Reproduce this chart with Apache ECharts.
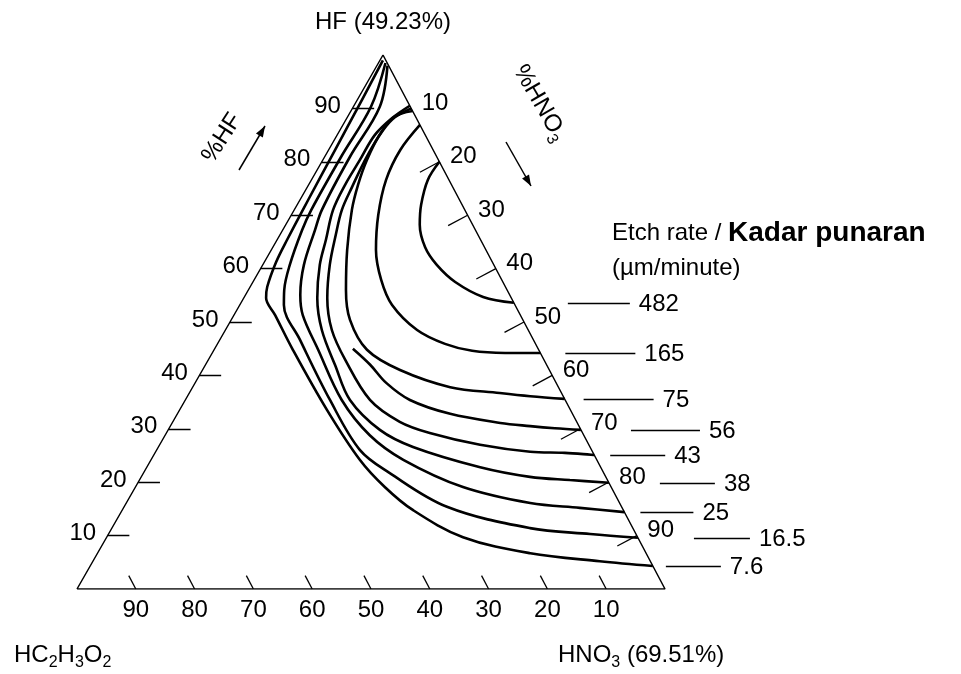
<!DOCTYPE html>
<html>
<head>
<meta charset="utf-8">
<script src="https://cdn.jsdelivr.net/npm/echarts@6/dist/echarts.min.js"></script>
<style>
html, body { margin: 0; padding: 0; background: #fff; }
#main { width: 961px; height: 674px; }
</style>
</head>
<body>
<div id="main"></div>
<script>
"use strict"
// etch rate contours on the HF / HNO3 / HC2H3O2 triangle
// every point is [HF %, HNO3 %], acetic acid is what is left
const rates = ['482', '165', '75', '56', '43', '38', '25', '16.5', '7.6'];

const c482 = [[80,20],[76.6,19.8],[71.9,21.1],[68.2,22.8],[64,25.9],[60.7,29.6],[57.5,34.4],[54.7,40.6],[53.6,46.4]];
const c165 = [[86.9,13.1],[82.2,12.2],[76.6,12.7],[70,14.8],[63.5,17.8],[57.9,21.6],[53.2,25.9],[48.5,32.6],[45.9,38.7],[44.6,44],[44.2,49.8],[44.2,55.8]];
const c75 = [[89.5,10.5],[88.4,7.9],[85.2,7.2],[80.3,7.5],[75.7,8.4],[71,9.8],[63.5,12.9],[56,16.6],[50.4,20.2],[44.8,26],[41,33.6],[37.8,43.8],[36.7,52.8],[36.1,58.3],[35.6,64.4]];
const c56 = [[45,23.5],[42,28],[38.6,32.5],[35.4,38.2],[32.8,46.4],[31.1,55.8],[30.5,61.2],[30.1,65.6],[29.8,70.2]];
const c43 = [[90,10],[88,7.9],[84.6,7.2],[80,7.2],[75.3,7.6],[71,8.1],[66.3,9.5],[60.7,11.4],[54.5,14.2],[48.5,18.1],[42.9,23.3],[35.4,31.4],[31.3,38.6],[29.2,44.8],[27,54.5],[25.7,63.7],[25.5,69.7],[25.1,74.9]];
const c38 = [[90.5,9.5],[88.2,7.7],[85,6.4],[80.3,6.3],[75.7,6.2],[71,6.6],[65.4,8.3],[60.7,9.7],[54.5,12.5],[48.5,16.4],[41.9,22.1],[35.4,28],[29.8,36],[26.6,43.3],[22.8,56.7],[21,66.1],[20.4,73.2],[19.9,80.1]];
const c25 = [[98,1.8],[90.3,4.5],[80.9,4.3],[71,4.7],[67.2,5.5],[60.7,7],[55.1,9.3],[51.3,11.7],[44.8,17.7],[35.4,26.6],[28.8,34.8],[24.2,42.9],[19.1,55.7],[16.1,68.7],[15.2,77.6],[14.4,85.6]];
const c16_5 = [[98.5,1.2],[90.3,3],[80.9,2.8],[71,2.9],[67.2,3.3],[60.7,4.6],[56,6.1],[53.2,7.5],[46.6,13.7],[35.4,24.6],[26,34.6],[21.7,41.9],[15.4,54.9],[11.4,71.1],[10.3,81.9],[9.6,90.4]];
const c7_6 = [[99,0.5],[91.6,0.8],[82.2,1.1],[72.8,1.4],[65.4,1.7],[61.2,2],[56.6,2.9],[54.5,3.8],[51.3,7],[44.8,13.4],[33.5,25.1],[24.2,35.5],[19.1,42.4],[14.8,49.4],[9.7,60.6],[6.7,73.6],[5.2,86.2],[4.3,95.7]];

const contours = [c482, c165, c75, c56, c43, c38, c25, c16_5, c7_6];

// corners: HC2H3O2, HNO3, HF
const corners = [[0,0],[0,100],[100,0],[0,0]];
const tickValues = [10, 20, 30, 40, 50, 60, 70, 80, 90];

// layout
const FONT = "'Liberation Sans', Arial, Helvetica, sans-serif";
const APEX = 306 / 588;            // where the HF corner sits along the base
const leaderGap = [54, 25, 19, 50, 16, 51, 16, 56, 13];
const leaderLen = [62, 70, 70, 69, 55, 55, 53, 56, 55];

function toXY(p) {
    return [p[1] + APEX * p[0], p[0]];
}

const chart = echarts.init(document.getElementById('main'));

const series = [];
series.push({
    type: 'line',
    data: corners.map(toXY),
    symbol: 'none',
    lineStyle: { color: '#000', width: 1.5 },
    silent: true,
    z: 2
});

contours.forEach(function (c, i) {
    series.push({
        type: 'line',
        name: rates[i],
        data: c.map(toXY),
        smooth: 0.35,
        symbol: 'none',
        lineStyle: { color: '#000', width: 2.6 },
        silent: true,
        z: 3
    });
});

// tick marks
let tickLines = [];
tickValues.forEach(function (v) {
    tickLines.push({ coords: [toXY([v, 0]), toXY([v, 3.7])] });
    tickLines.push({ coords: [toXY([0, 100 - v]), toXY([2.5, 97.5 - v])] });
    tickLines.push({ coords: [toXY([100 - v, v]), toXY([100 - v - 1.95, v - 2.3])] });
});
series.push({
    type: 'lines',
    coordinateSystem: 'cartesian2d',
    data: tickLines,
    symbol: 'none',
    lineStyle: { color: '#000', width: 1.3, opacity: 1 },
    silent: true,
    z: 2
});

function tickLabels(points, pos, dist, offset) {
    return {
        type: 'scatter',
        data: points,
        symbolSize: 1,
        itemStyle: { color: 'rgba(0,0,0,0)', opacity: 1 },
        silent: true,
        label: {
            show: true,
            position: pos,
            distance: dist,
            offset: offset,
            formatter: function (p) { return p.value[2]; },
            color: '#000',
            fontSize: 24,
            fontFamily: FONT
        }
    };
}
series.push(tickLabels(tickValues.map(v => toXY([v, 0]).concat(v)), 'left', 11, [0, -2]));
series.push(tickLabels(tickValues.map(v => toXY([100 - v, v]).concat(v)), 'right', 10, [0, -5]));
series.push(tickLabels(tickValues.map(v => toXY([0, 100 - v]).concat(v)), 'bottom', 9, [0, 0]));

chart.setOption({
    animation: false,
    backgroundColor: '#fff',
    grid: { left: 77, right: 296, top: 55, bottom: 85 },
    xAxis: { type: 'value', min: 0, max: 100, show: false },
    yAxis: { type: 'value', min: 0, max: 100, show: false },
    series: series
});

function arrow(x1, y1, x2, y2) {
    const a = Math.atan2(y2 - y1, x2 - x1), h = 11, w = 4;
    return [
        { type: 'line', shape: { x1: x1, y1: y1, x2: x2, y2: y2 }, style: { stroke: '#000', lineWidth: 1.5 } },
        { type: 'polygon', shape: { points: [
            [x2, y2],
            [x2 - h * Math.cos(a) + w * Math.sin(a), y2 - h * Math.sin(a) - w * Math.cos(a)],
            [x2 - h * Math.cos(a) - w * Math.sin(a), y2 - h * Math.sin(a) + w * Math.cos(a)]
        ] }, style: { fill: '#000' } }
    ];
}

const rich = {
    a: { fontSize: 24, fontFamily: FONT, lineHeight: 32, verticalAlign: 'middle', fill: '#000' },
    s: { fontSize: 16, fontFamily: FONT, lineHeight: 14, verticalAlign: 'bottom', fill: '#000' },
    b: { fontSize: 28, fontFamily: FONT, fontWeight: 'bold', lineHeight: 32, verticalAlign: 'middle', fill: '#000' }
};

function text(x, y, str, align, rot) {
    return {
        type: 'text', x: x, y: y, rotation: rot || 0,
        style: { text: str, rich: rich, align: align || 'left', verticalAlign: 'middle', font: '24px ' + FONT, fill: '#000' }
    };
}

let graphics = [
    text(383, 22, '{a|HF (49.23%)}', 'center'),
    text(14, 655, '{a|HC}{s|2}{a|H}{s|3}{a|O}{s|2}'),
    text(558, 655, '{a|HNO}{s|3}{a| (69.51%)}'),
    text(222, 138, '{a|%HF}', 'center', 57 * Math.PI / 180),
    text(540, 103, '{a|%HNO}{s|3}', 'center', -60 * Math.PI / 180),
    text(612, 233, '{a|Etch rate / }{b|Kadar punaran}'),
    text(612, 268, '{a|(\u00b5m/minute)}')
];
graphics = graphics.concat(arrow(239, 170, 265, 126), arrow(506, 142, 531, 186));

// leader lines and rate labels at the contour ends
contours.forEach(function (c, i) {
    const e = chart.convertToPixel({ xAxisIndex: 0, yAxisIndex: 0 }, toXY(c[c.length - 1]));
    const x1 = e[0] + leaderGap[i], x2 = x1 + leaderLen[i], y = Math.round(e[1]) + 0.5;
    graphics.push({ type: 'line', shape: { x1: x1, y1: y, x2: x2, y2: y }, style: { stroke: '#000', lineWidth: 1.3 } });
    graphics.push(text(x2 + 9, y + 1, '{a|' + rates[i] + '}'));
});

chart.setOption({ graphic: graphics });
</script>
</body>
</html>
